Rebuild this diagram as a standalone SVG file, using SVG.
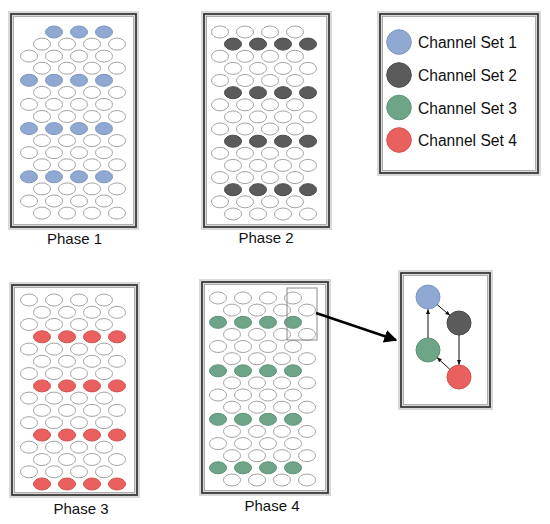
<svg xmlns="http://www.w3.org/2000/svg" xmlns:xlink="http://www.w3.org/1999/xlink" width="550" height="524" viewBox="0 0 550 524">
<style>
.halo{fill:#fff;stroke:#d9d9d9;stroke-width:6}
.frame{fill:none;stroke:#3a3a3a;stroke-width:1.8}
.inner{fill:none;stroke:#9a9a9a;stroke-width:0.7}
.w{fill:#fff;stroke:#a4a4a4;stroke-width:1}
.c1{fill:#8fa9d3;stroke:#7d96c0;stroke-width:1}
.c2{fill:#5b5b5b;stroke:#4a4a4a;stroke-width:1}
.c3{fill:#6ea488;stroke:#5e9278;stroke-width:1}
.c4{fill:#e9605e;stroke:#cf5250;stroke-width:1}
.lbl{font-family:"Liberation Sans",Arial,sans-serif;font-size:15px;fill:#111}
.leg{font-family:"Liberation Sans",Arial,sans-serif;font-size:15.6px;fill:#111}
.hl{fill:none;stroke:#8a8a8a;stroke-width:1}
.big{stroke:#000;stroke-width:2.6;fill:none}
.thin{stroke:#111;stroke-width:1;fill:none}
</style>
<defs>
<g id="rw"><ellipse class="w" cx="0" cy="0" rx="8.5" ry="6"/><ellipse class="w" cx="25" cy="0" rx="8.5" ry="6"/><ellipse class="w" cx="50" cy="0" rx="8.5" ry="6"/><ellipse class="w" cx="75" cy="0" rx="8.5" ry="6"/></g>
<g id="r1"><ellipse class="c1" cx="0" cy="0" rx="8.5" ry="6"/><ellipse class="c1" cx="25" cy="0" rx="8.5" ry="6"/><ellipse class="c1" cx="50" cy="0" rx="8.5" ry="6"/><ellipse class="c1" cx="75" cy="0" rx="8.5" ry="6"/></g>
<g id="r2"><ellipse class="c2" cx="0" cy="0" rx="8.5" ry="6"/><ellipse class="c2" cx="25" cy="0" rx="8.5" ry="6"/><ellipse class="c2" cx="50" cy="0" rx="8.5" ry="6"/><ellipse class="c2" cx="75" cy="0" rx="8.5" ry="6"/></g>
<g id="r3"><ellipse class="c3" cx="0" cy="0" rx="8.5" ry="6"/><ellipse class="c3" cx="25" cy="0" rx="8.5" ry="6"/><ellipse class="c3" cx="50" cy="0" rx="8.5" ry="6"/><ellipse class="c3" cx="75" cy="0" rx="8.5" ry="6"/></g>
<g id="r4"><ellipse class="c4" cx="0" cy="0" rx="8.5" ry="6"/><ellipse class="c4" cx="25" cy="0" rx="8.5" ry="6"/><ellipse class="c4" cx="50" cy="0" rx="8.5" ry="6"/><ellipse class="c4" cx="75" cy="0" rx="8.5" ry="6"/></g>
<marker id="ahBig" viewBox="0 0 10 10" refX="9" refY="5" markerWidth="5" markerHeight="5" orient="auto" markerUnits="strokeWidth"><path d="M0,0 L10,5 L0,10 Z" fill="#000"/></marker>
<marker id="ahSm" viewBox="0 0 10 10" refX="9" refY="5" markerWidth="5" markerHeight="5" orient="auto" markerUnits="strokeWidth"><path d="M0,1 L10,5 L0,9 Z" fill="#111"/></marker>
</defs>

<g id="phase1">
<rect class="halo" x="11" y="14" width="125" height="213"/>
<rect class="frame" x="11" y="14" width="125" height="213"/>
<rect class="inner" x="13.5" y="16.5" width="120" height="208"/>
<ellipse class="c1" cx="54" cy="32" rx="8.5" ry="6"/><ellipse class="c1" cx="79" cy="32" rx="8.5" ry="6"/><ellipse class="c1" cx="104" cy="32" rx="8.5" ry="6"/>
<use xlink:href="#rw" x="42" y="44.1"/>
<use xlink:href="#rw" x="29" y="56.1"/>
<use xlink:href="#rw" x="42" y="68.2"/>
<use xlink:href="#r1" x="29" y="80.3"/>
<use xlink:href="#rw" x="42" y="92.4"/>
<use xlink:href="#rw" x="29" y="104.4"/>
<use xlink:href="#rw" x="42" y="116.5"/>
<use xlink:href="#r1" x="29" y="128.6"/>
<use xlink:href="#rw" x="42" y="140.6"/>
<use xlink:href="#rw" x="29" y="152.7"/>
<use xlink:href="#rw" x="42" y="164.8"/>
<use xlink:href="#r1" x="29" y="176.8"/>
<use xlink:href="#rw" x="42" y="188.9"/>
<use xlink:href="#rw" x="29" y="201"/>
<use xlink:href="#rw" x="42" y="213.1"/>
<text class="lbl" x="74.5" y="243.5" text-anchor="middle">Phase 1</text>
</g>

<g id="phase2">
<rect class="halo" x="204" y="14" width="125" height="213"/>
<rect class="frame" x="204" y="14" width="125" height="213"/>
<rect class="inner" x="206.5" y="16.5" width="120" height="208"/>
<use xlink:href="#rw" x="220" y="32"/>
<use xlink:href="#r2" x="233" y="44.1"/>
<use xlink:href="#rw" x="220" y="56.3"/>
<use xlink:href="#rw" x="233" y="68.4"/>
<use xlink:href="#rw" x="220" y="80.5"/>
<use xlink:href="#r2" x="233" y="92.7"/>
<use xlink:href="#rw" x="220" y="104.8"/>
<use xlink:href="#rw" x="233" y="116.9"/>
<use xlink:href="#rw" x="220" y="129"/>
<use xlink:href="#r2" x="233" y="141.2"/>
<use xlink:href="#rw" x="220" y="153.3"/>
<use xlink:href="#rw" x="233" y="165.4"/>
<use xlink:href="#rw" x="220" y="177.6"/>
<use xlink:href="#r2" x="233" y="189.7"/>
<use xlink:href="#rw" x="220" y="201.8"/>
<use xlink:href="#rw" x="233" y="214"/>
<text class="lbl" x="266" y="242.5" text-anchor="middle">Phase 2</text>
</g>

<g id="legend">
<rect class="halo" x="380" y="14" width="158" height="159"/>
<rect class="frame" x="380" y="14" width="158" height="159"/>
<rect class="inner" x="382.5" y="16.5" width="153" height="154"/>
<circle class="c1" cx="399" cy="42" r="12.3"/>
<text class="leg" x="418" y="48">Channel Set 1</text>
<circle class="c2" cx="399" cy="75" r="12.3"/>
<text class="leg" x="418" y="81">Channel Set 2</text>
<circle class="c3" cx="399" cy="107.5" r="12.3"/>
<text class="leg" x="418" y="113.5">Channel Set 3</text>
<circle class="c4" cx="399" cy="140" r="12.3"/>
<text class="leg" x="418" y="146">Channel Set 4</text>
</g>

<g id="phase3">
<rect class="halo" x="12" y="285" width="125" height="210"/>
<rect class="frame" x="12" y="285" width="125" height="210"/>
<rect class="inner" x="14.5" y="287.5" width="120" height="205"/>
<use xlink:href="#rw" x="29" y="300"/>
<use xlink:href="#rw" x="42" y="312.3"/>
<use xlink:href="#rw" x="29" y="324.5"/>
<use xlink:href="#r4" x="42" y="336.8"/>
<use xlink:href="#rw" x="29" y="349.1"/>
<use xlink:href="#rw" x="42" y="361.3"/>
<use xlink:href="#rw" x="29" y="373.6"/>
<use xlink:href="#r4" x="42" y="385.9"/>
<use xlink:href="#rw" x="29" y="398.1"/>
<use xlink:href="#rw" x="42" y="410.4"/>
<use xlink:href="#rw" x="29" y="422.7"/>
<use xlink:href="#r4" x="42" y="435"/>
<use xlink:href="#rw" x="29" y="447.2"/>
<use xlink:href="#rw" x="42" y="459.5"/>
<use xlink:href="#rw" x="29" y="471.8"/>
<use xlink:href="#r4" x="42" y="484"/>
<text class="lbl" x="81" y="514" text-anchor="middle">Phase 3</text>
</g>

<g id="phase4">
<rect class="halo" x="202" y="282" width="126" height="211"/>
<rect class="frame" x="202" y="282" width="126" height="211"/>
<rect class="inner" x="204.5" y="284.5" width="121" height="206"/>
<use xlink:href="#rw" x="218" y="298"/>
<use xlink:href="#rw" x="232" y="310.1"/>
<use xlink:href="#r3" x="218" y="322.3"/>
<use xlink:href="#rw" x="232" y="334.4"/>
<use xlink:href="#rw" x="218" y="346.5"/>
<use xlink:href="#rw" x="232" y="358.7"/>
<use xlink:href="#r3" x="218" y="370.8"/>
<use xlink:href="#rw" x="232" y="382.9"/>
<use xlink:href="#rw" x="218" y="395"/>
<use xlink:href="#rw" x="232" y="407.2"/>
<use xlink:href="#r3" x="218" y="419.3"/>
<use xlink:href="#rw" x="232" y="431.4"/>
<use xlink:href="#rw" x="218" y="443.6"/>
<use xlink:href="#rw" x="232" y="455.7"/>
<use xlink:href="#r3" x="218" y="467.8"/>
<use xlink:href="#rw" x="232" y="480"/>
<rect class="hl" x="287" y="288" width="30" height="52"/>
<text class="lbl" x="272" y="511" text-anchor="middle">Phase 4</text>
</g>

<g id="inset">
<rect class="halo" x="401" y="273" width="89" height="134"/>
<rect class="frame" x="401" y="273" width="89" height="134"/>
<rect class="inner" x="403.5" y="275.5" width="84" height="129"/>
<circle id="n-blue" class="c1" cx="428" cy="297" r="12"/>
<circle id="n-dark" class="c2" cx="459" cy="323" r="12"/>
<circle id="n-green" class="c3" cx="428" cy="350" r="12"/>
<circle id="n-red" class="c4" cx="459" cy="377" r="12"/>
</g>

<g id="connectors">
<line class="big" x1="316" y1="313" x2="396" y2="340" marker-end="url(#ahBig)"/>
<line class="thin" x1="428" y1="338" x2="428" y2="309.5" marker-end="url(#ahSm)"/>
<line class="thin" x1="437.2" y1="304.7" x2="449.8" y2="315.3" marker-end="url(#ahSm)"/>
<line class="thin" x1="459" y1="335" x2="459" y2="364.5" marker-end="url(#ahSm)"/>
<line class="thin" x1="449.8" y1="369.3" x2="437.2" y2="357.7" marker-end="url(#ahSm)"/>
</g>
</svg>
